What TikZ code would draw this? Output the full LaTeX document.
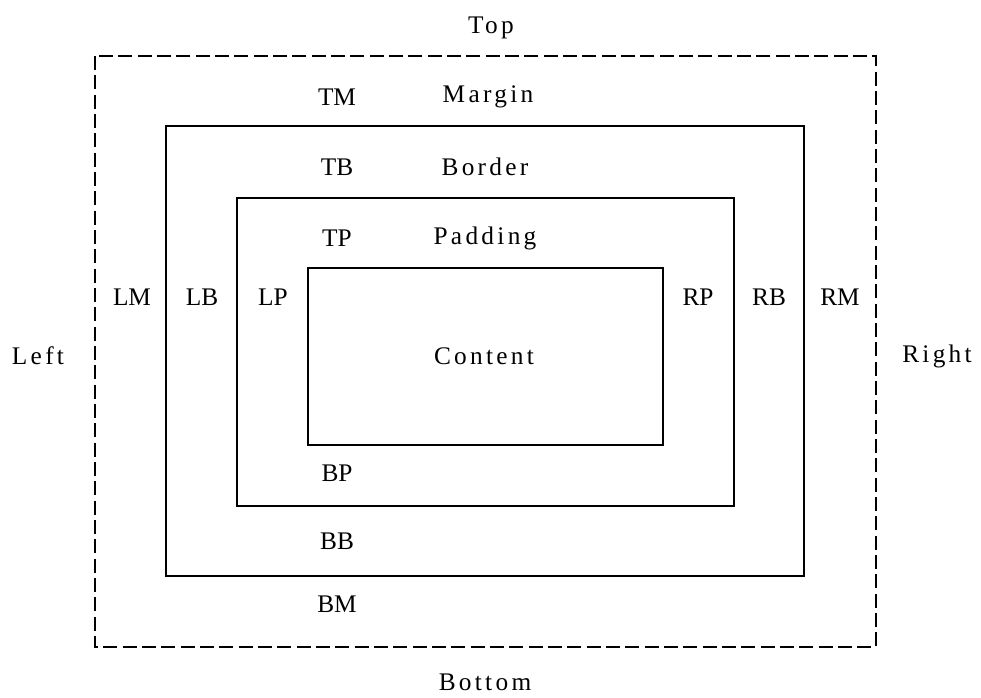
\documentclass[tikz,border=0pt]{standalone}
\usepackage{fontspec}
\setmainfont{Liberation Serif}
\begin{document}
\begin{tikzpicture}[x=0.75pt,y=-0.75pt,
  box/.style={line width=1.7pt},
  dashbox/.style={line width=1.7pt,dash pattern=on 10.5pt off 4pt},
  lbl/.style={inner sep=0pt,font=\fontsize{19}{22}\selectfont},
  wide/.style={lbl,font=\fontsize{19}{22}\selectfont\addfontfeature{LetterSpace=13}}]
\useasboundingbox (0,0) rectangle (981,697);
\draw[dashbox] (95,56) rectangle (876,647);
\draw[box] (166,126) rectangle (804,576);
\draw[box] (237,198) rectangle (734,506);
\draw[box] (308,268) rectangle (663,445);
\node[wide] (top) at (491,28) {Top};
\node[wide] (bottom) at (485,682) {Bottom};
\node[wide] (left) at (38,356) {Left};
\node[wide] (right) at (937,356) {Right};
\node[wide] (margin) at (488,97) {Margin};
\node[wide] (border) at (485,167) {Border};
\node[wide] (padding) at (485,238) {Padding};
\node[wide] (content) at (484,356) {Content};
\node[lbl] (tm) at (337,97) {TM};
\node[lbl] (tb) at (337,167) {TB};
\node[lbl] (tp) at (337,238) {TP};
\node[lbl] (bp) at (337,473) {BP};
\node[lbl] (bb) at (337,541) {BB};
\node[lbl] (bm) at (337,604) {BM};
\node[lbl] (lm) at (132,297) {LM};
\node[lbl] (lb) at (202,297) {LB};
\node[lbl] (lp) at (273,297) {LP};
\node[lbl] (rp) at (698,297) {RP};
\node[lbl] (rb) at (769,297) {RB};
\node[lbl] (rm) at (840,297) {RM};
\end{tikzpicture}
\end{document}
